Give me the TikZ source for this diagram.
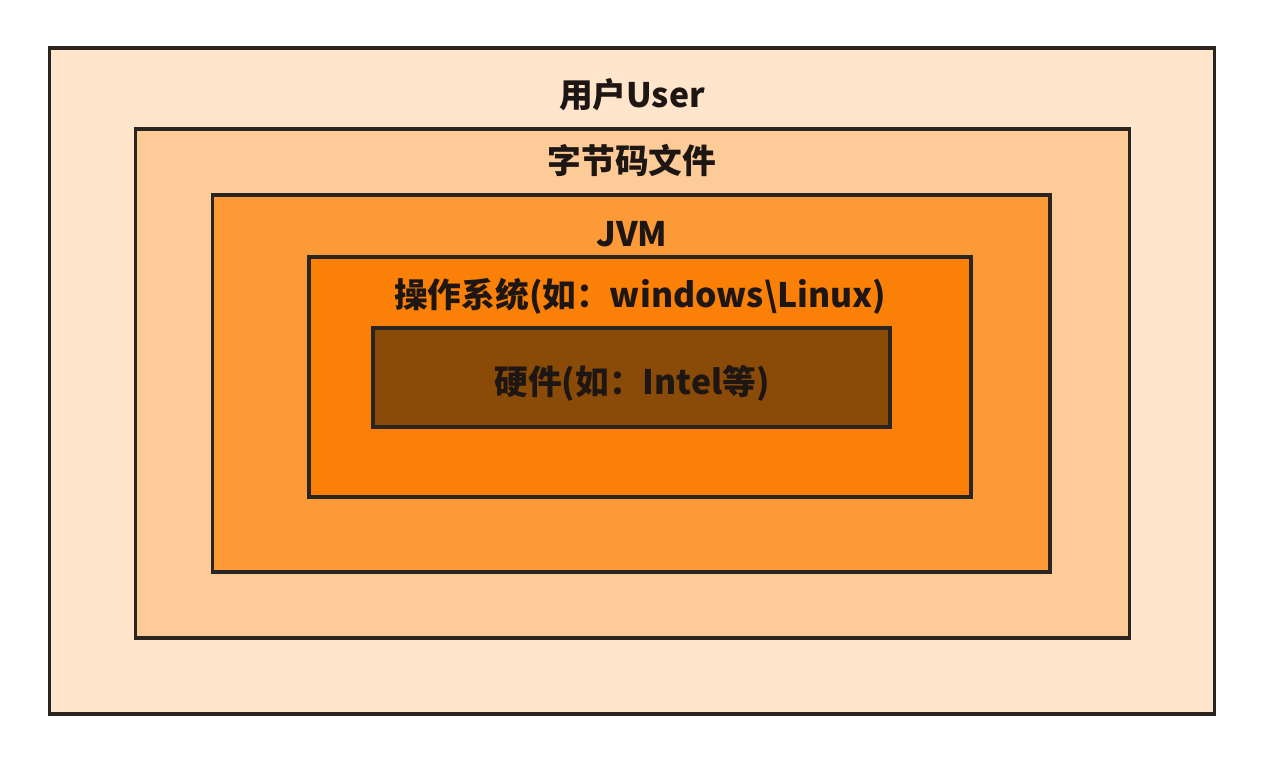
\documentclass[tikz,border=0pt]{standalone}
\usepackage{fontspec}
\setmainfont{Noto Sans CJK SC}
\definecolor{c1}{HTML}{FEE5CB}
\definecolor{c2}{HTML}{FDCB98}
\definecolor{c3}{HTML}{FC9A38}
\definecolor{c4}{HTML}{FA8008}
\definecolor{c5}{HTML}{8A4A08}
\definecolor{edge}{HTML}{2B2522}
\definecolor{txt}{HTML}{1E1612}
\tikzset{
  layer/.style={draw=edge, line width=1.8pt, inner sep=0pt, outer sep=0pt},
  lbl/.style={text=txt, font=\fontsize{19.2}{21}\selectfont\bfseries, inner sep=0pt}
}
\begin{document}
\begin{tikzpicture}[x=0.02cm,y=-0.02cm]
\useasboundingbox (0,0) rectangle (1264,766);
\node[layer, fill=c1, minimum width=23.32cm, minimum height=13.32cm] (b1) at (632,381) {};
\node[layer, fill=c2, minimum width=19.9cm, minimum height=10.18cm] (b2) at (632.5,383.5) {};
\node[layer, fill=c3, minimum width=16.76cm, minimum height=7.54cm] (b3) at (631,383.5) {};
\node[layer, fill=c4, minimum width=13.24cm, minimum height=4.8cm] (b4) at (640,377) {};
\node[layer, fill=c5, minimum width=10.34cm, minimum height=1.98cm] (b5) at (631.5,377.5) {};
\node[lbl] (t1) at (632,95) {用户User};
\node[lbl] (t2) at (632,160) {字节码文件};
\node[lbl] (t3) at (632,234) {JVM};
\node[lbl] (t4) at (640,296) {操作系统(如：windows\textbackslash Linux)};
\node[lbl] (t5) at (632,383) {硬件(如：Intel等)};
\end{tikzpicture}
\end{document}
